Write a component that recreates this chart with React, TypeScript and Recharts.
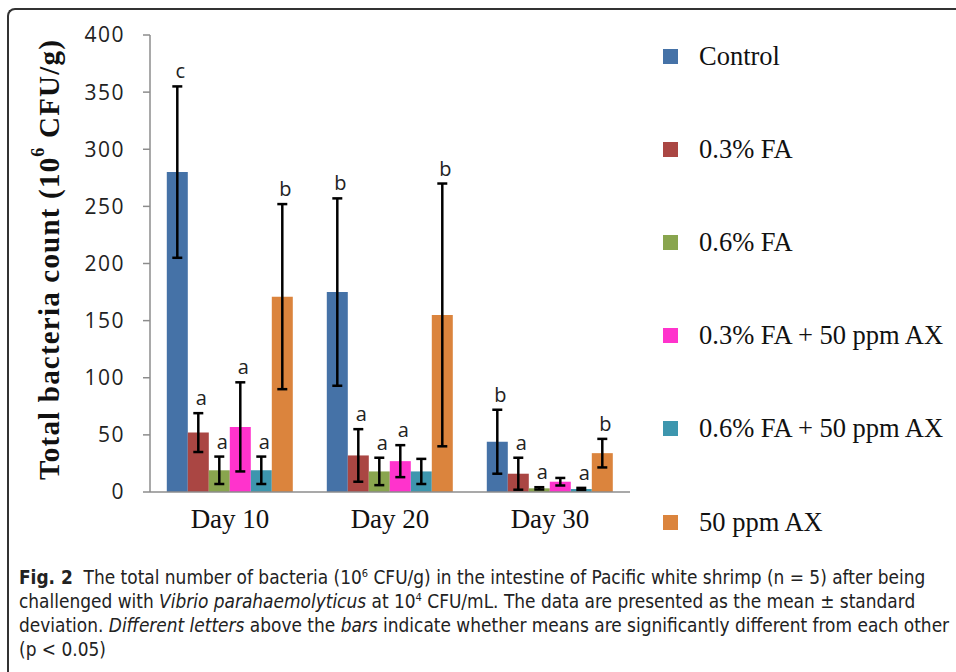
import React from 'react';
import { BarChart, Bar, XAxis, YAxis, ErrorBar } from 'recharts';

const days = ['Day 10', 'Day 20', 'Day 30'];
const seriesNames = ['Control', '0.3% FA', '0.6% FA', '0.3% FA + 50 ppm AX', '0.6% FA + 50 ppm AX', '50 ppm AX'];
const colors = ['#4572A7', '#AA4643', '#89A54E', '#FF33CC', '#3D96AE', '#DB843D'];

// means and standard deviations (10^6 CFU/g), one value per day
const controlMean = [280, 175, 44];
const controlSd = [75, 82, 28];
const fa03Mean = [52, 32, 16];
const fa03Sd = [17, 23, 14];
const fa06Mean = [19, 18, 3.2];
const fa06Sd = [12, 12, 1];
const fa03axMean = [57, 27, 9];
const fa03axSd = [39, 14, 3.3];
const fa06axMean = [19, 18, 2.6];
const fa06axSd = [12, 11, 1];
const axMean = [171, 155, 34];
const axSd = [81, 115, 12.5];

// significance letters
const controlLetters = ['c', 'b', 'b'];
const fa03Letters = ['a', 'a', 'a'];
const fa06Letters = ['a', 'a', 'a'];
const fa03axLetters = ['a', 'a', ''];
const fa06axLetters = ['a', '', 'a'];
const axLetters = ['b', 'b', 'b'];

const yTicks = [0, 50, 100, 150, 200, 250, 300, 350, 400];

const means = [controlMean, fa03Mean, fa06Mean, fa03axMean, fa06axMean, axMean];
const sds = [controlSd, fa03Sd, fa06Sd, fa03axSd, fa06axSd, axSd];
const letters = [controlLetters, fa03Letters, fa06Letters, fa03axLetters, fa06axLetters, axLetters];

const data = days.map((day, i) => {
    const row: any = { name: day };
    means.forEach((m, s) => {
        row[`m${s}`] = m[i];
        row[`sd${s}`] = sds[s][i];
    });
    return row;
});

const sansFont = '"Open Sans", "Noto Sans", sans-serif';
const serifFont = '"Liberation Serif", "Times New Roman", serif';

const renderLetter = (s: number) => (props: any) => {
    const { x, y, width, height, index } = props;
    const letter = letters[s][index];
    if (!letter) return null;
    const mean = means[s][index];
    const pxPerUnit = mean > 0 ? Number(height) / mean : 0;
    const errTop = Number(y) - sds[s][index] * pxPerUnit;
    return (
        <text
            x={Number(x) + Number(width) / 2 + 3}
            y={errTop - 8}
            textAnchor="middle"
            fontFamily={sansFont}
            fontSize={20}
            fill="#222"
        >
            {letter}
        </text>
    );
};

const YLabel = (props: any) => {
    const vb = props.viewBox || {};
    const cy = vb.y + vb.height / 2 - 4;
    return (
        <text
            x={49}
            y={cy}
            transform={`rotate(-90, 49, ${cy})`}
            textAnchor="middle"
            dominantBaseline="central"
            fontFamily={serifFont}
            fontWeight="bold"
            fontSize={29}
            letterSpacing={1.2}
            fill="#111"
        >
            Total bacteria count (10
            <tspan dy={-11} fontSize={18}>6</tspan>
            <tspan dy={11}> CFU/g)</tspan>
        </text>
    );
};

function Legend6() {
    return (
        <div style={{ position: 'absolute', left: 663, top: 9.5 }}>
            {seriesNames.map((name, i) => (
                <div key={name} style={{ height: 93.2, display: 'flex', alignItems: 'center' }}>
                    <div style={{ width: 15, height: 15, background: colors[i], marginRight: 21 }} />
                    <span style={{ fontFamily: serifFont, fontSize: 26.5, color: '#111', whiteSpace: 'nowrap' }}>{name}</span>
                </div>
            ))}
        </div>
    );
}

export default function App() {
    return (
        <div style={{ position: 'fixed', left: 0, top: 0, width: 956, height: 672, background: '#fff', overflow: 'hidden' }}>
            {/* figure frame */}
            <div
                style={{
                    position: 'absolute', left: 7, top: 8, width: 1000, height: 700,
                    borderTop: '2px solid #333', borderLeft: '2px solid #333', borderTopLeftRadius: 8,
                }}
            />

            <div style={{ position: 'absolute', left: 0, top: 0 }}>
                <BarChart
                    width={956}
                    height={560}
                    data={data}
                    margin={{ top: 35, right: 326, left: 0, bottom: 28 }}
                    barCategoryGap="10.5%"
                    barGap={0}
                >
                    <XAxis
                        dataKey="name"
                        height={40}
                        tickLine={false}
                        tickSize={0}
                        tickMargin={17}
                        axisLine={{ stroke: '#8c8c8c', strokeWidth: 1.5 }}
                        tick={{ fontFamily: serifFont, fontSize: 27, fill: '#111' }}
                    />
                    <YAxis
                        width={150}
                        domain={[0, 400]}
                        ticks={yTicks}
                        interval={0}
                        tickSize={7}
                        tickMargin={18}
                        axisLine={{ stroke: '#8c8c8c', strokeWidth: 1.5 }}
                        tickLine={{ stroke: '#8c8c8c', strokeWidth: 1.5 }}
                        tick={{ fontFamily: sansFont, fontSize: 21, fill: '#222', letterSpacing: 1.5 }}
                        label={{ content: YLabel }}
                    />
                    {seriesNames.map((name, s) => (
                        <Bar
                            key={name}
                            dataKey={`m${s}`}
                            name={name}
                            fill={colors[s]}
                            isAnimationActive={false}
                            label={renderLetter(s)}
                        >
                            <ErrorBar dataKey={`sd${s}`} width={5} stroke="#000" strokeWidth={2.5} direction="y" />
                        </Bar>
                    ))}
                </BarChart>
            </div>

            <Legend6 />

            {/* caption */}
            <div
                style={{
                    position: 'absolute', left: 19, top: 565, width: 930,
                    fontFamily: '"Liberation Sans Narrow", "DejaVu Sans Condensed", "Noto Sans", sans-serif',
                    fontSize: 18.9, lineHeight: '24px', color: '#222', whiteSpace: 'nowrap',
                }}
            >
                <b>Fig. 2</b>&nbsp; The total number of bacteria (10<sup style={{ fontSize: 11, lineHeight: 0 }}>6</sup> CFU/g) in the intestine of Pacific white shrimp (n = 5) after being
                <br />
                challenged with <i>Vibrio parahaemolyticus</i> at 10<sup style={{ fontSize: 11, lineHeight: 0 }}>4</sup> CFU/mL. The data are presented as the mean ± standard
                <br />
                deviation. <i>Different letters</i> above the <i>bars</i> indicate whether means are significantly different from each other
                <br />
                (p &lt; 0.05)
            </div>
        </div>
    );
}
